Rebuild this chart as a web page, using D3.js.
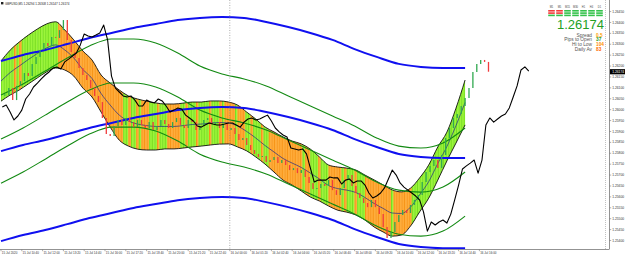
<!DOCTYPE html>
<html>
<head>
<meta charset="utf-8">
<script src="https://cdn.jsdelivr.net/npm/d3@7"></script>
<style>
html,body{margin:0;padding:0;background:#fff;}
svg{display:block;font-family:"Liberation Sans",Arial,sans-serif;}
</style>
</head>
<body>
<script>
// GBPUSD M5 chart: candles, ribbon band, two channels and a shifted line

var timeLabels = ["15 Jul 2020","15 Jul 10:40","15 Jul 12:00","15 Jul 13:20","15 Jul 14:40","15 Jul 16:00",
  "15 Jul 17:20","15 Jul 18:40","15 Jul 20:00","15 Jul 21:20","15 Jul 22:40","16 Jul 00:00",
  "16 Jul 01:20","16 Jul 02:40","16 Jul 04:00","16 Jul 05:20","16 Jul 06:40","16 Jul 08:00",
  "16 Jul 09:20","16 Jul 10:40","16 Jul 12:00","16 Jul 13:20","16 Jul 14:40","16 Jul 16:00"];
var labelStep = 16;      // bars between time labels
var dayBreakLabel = 11;  // 16 Jul 00:00

var priceTicks = [1.2540,1.2545,1.2550,1.2555,1.2560,1.2565,1.2570,1.2575,1.2580,1.2585,1.2590,
  1.2595,1.2600,1.2605,1.2610,1.2615,1.2620,1.2625,1.2630,1.2635,1.2640,1.2645];

// candles every 3 bars from bar 3
var candleStart = 3, candleStep = 3;
var candleClose = [1.26067,1.26099,1.26044,1.26109,1.26131,1.26168,1.26154,1.26209,1.26242,1.26274,
  1.26306,1.26292,1.26333,1.26329,1.26365,1.26411,1.26320,1.26265,1.26237,1.26191,
  1.26159,1.26136,1.26099,1.26063,1.26035,1.25962,1.25888,1.25879,1.25925,1.25953,
  1.25930,1.25962,1.25943,1.25920,1.25953,1.25930,1.25916,1.25943,1.25907,1.25925,
  1.25953,1.25934,1.25916,1.25943,1.25962,1.25930,1.25916,1.25953,1.25943,1.25907,
  1.25925,1.25953,1.25962,1.25934,1.25943,1.25916,1.25934,1.25907,1.25916,1.25888,
  1.25861,1.25870,1.25838,1.25815,1.25797,1.25783,1.25787,1.25760,1.25769,1.25783,
  1.25755,1.25769,1.25746,1.25723,1.25732,1.25709,1.25723,1.25691,1.25664,1.25636,
  1.25641,1.25659,1.25650,1.25677,1.25631,1.25609,1.25641,1.25677,1.25700,1.25650,
  1.25618,1.25595,1.25572,1.25553,1.25586,1.25553,1.25521,1.25462,1.25411,1.25439,
  1.25485,1.25517,1.25540,1.25526,1.25563,1.25586,1.25609,1.25668,1.25714,1.25742,
  1.25769,1.25732,1.25792,1.25870,1.25916,1.25962,1.25980,1.26017,1.26054,1.26099,
  1.26173,1.26209,1.26228,1.26219,1.26174];

// black line every 3 bars from bar 1
var blackStart = 1, blackStep = 3;
var blackLine = [1.26012,1.26021,1.25989,1.25953,1.25971,1.25998,1.26049,1.26072,1.26104,1.26122,
  1.26141,1.26159,1.26173,1.26191,1.26196,1.26187,1.26219,1.26232,1.26246,1.26260,
  1.26297,1.26347,1.26338,1.26333,1.26342,1.26352,1.26388,1.26320,1.26154,1.26099,
  1.26081,1.26063,1.26058,1.26063,1.26044,1.26017,1.26017,1.26044,1.26035,1.26031,
  1.26049,1.26040,1.26017,1.25989,1.25998,1.26008,1.26003,1.25975,1.25962,1.25948,
  1.25925,1.25920,1.25930,1.25939,1.25934,1.25930,1.25930,1.25934,1.25939,1.25939,
  1.25930,1.25920,1.25943,1.25957,1.25962,1.25953,1.25957,1.25966,1.25975,1.25948,
  1.25916,1.25898,1.25884,1.25875,1.25824,1.25820,1.25815,1.25820,1.25797,1.25732,
  1.25668,1.25677,1.25677,1.25677,1.25691,1.25687,1.25687,1.25659,1.25677,1.25682,
  1.25664,1.25673,1.25673,1.25654,1.25618,1.25595,1.25604,1.25618,1.25641,1.25682,
  1.25723,1.25700,1.25664,1.25645,1.25631,1.25618,1.25604,1.25586,1.25531,1.25443,
  1.25485,1.25471,1.25485,1.25494,1.25480,1.25521,1.25586,1.25654,1.25728,1.25742,
  1.25755,1.25769,1.25709,1.25769,1.25930,1.25962,1.25943,1.25957,1.25971,1.25980,
  1.26008,1.26058,1.26109,1.26182,1.26196,1.26177];

// regression channels, one point every 17 bars
var lineStep = 17;
var blueMid = [1.25810,1.25838,1.25861,1.25888,1.25916,1.25939,1.25962,1.25980,1.25998,1.26008,1.26012,
  1.26008,1.25989,1.25966,1.25939,1.25907,1.25865,1.25829,1.25797,1.25783,1.25778,1.25778];
var blueDev = 0.00413;
var greenMid = [1.25865,1.25916,1.25975,1.26035,1.26090,1.26122,1.26122,1.26104,1.26058,1.25998,1.25962,
  1.25939,1.25907,1.25861,1.25815,1.25769,1.25723,1.25668,1.25631,1.25622,1.25645,1.25714];
var greenDev = 0.00202;

// ribbon, one point every 7 bars
var bandStep = 7;
var bandMid = [1.26131,1.26170,1.26200,1.26230,1.26258,1.26283,1.26297,1.26274,1.26237,1.26184,
  1.26143,1.26074,1.26021,1.25975,1.25948,1.25934,1.25927,1.25923,1.25923,1.25923,
  1.25927,1.25932,1.25934,1.25939,1.25941,1.25939,1.25925,1.25900,1.25870,1.25836,
  1.25806,1.25776,1.25755,1.25735,1.25709,1.25682,1.25652,1.25638,1.25631,1.25620,
  1.25597,1.25570,1.25547,1.25526,1.25524,1.25553,1.25609,1.25670,1.25753,1.25831,
  1.25927,1.26033];
var bandHalf = [0.00092,0.00103,0.00110,0.00112,0.00112,0.00110,0.00106,0.00092,0.00083,0.00085,
  0.00085,0.00085,0.00101,0.00115,0.00115,0.00115,0.00112,0.00108,0.00103,0.00103,
  0.00103,0.00103,0.00101,0.00101,0.00099,0.00096,0.00096,0.00089,0.00087,0.00085,
  0.00092,0.00099,0.00101,0.00108,0.00110,0.00101,0.00094,0.00099,0.00101,0.00103,
  0.00103,0.00108,0.00108,0.00106,0.00099,0.00087,0.00078,0.00076,0.00076,0.00066,
  0.00080,0.00103];
// stripe colour every 2 bars: g = up, o = down
var stripeStep = 2;
var stripes = ["ggggg","ogo","gggggggggggg","ggo","ooooooooooooooooooooo","ooo","ggoggog","ooo",
  "gggoggg","ooooo","ggogggoggggogggog","oooogooo","ggogggogg","ooooooooooooogoo","gggoggg",
  "ooooo","gogggogggo","ooooooooogooooooo","ggggggggggggggggggggg"].join("");

var symbolName = "GBPUSD,M5";
var lastOHLC = [1.26294, 1.26308, 1.26147, 1.26174];
var lastPrice = 1.26174;
var panelCols = ["M1","M5","M15","M30","H1","H4","D1"];
var panelSignals = [[0,0,1,1,1,1,1],[0,0,1,1,1,1,1],[1,1,1,1,1,1,1]];
var infoLabels = ["Spread","Pips to Open","Hi to Low","Daily Av"];
var infoValues = ["0.5","37","104","83"];
var infoColors = ["#ffa000","#2a9a2a","#ff8c00","#ff6a00"];

var width = 625, height = 258;
var plotR = 609, plotB = 249;

var x = d3.scaleLinear().domain([0, 467.7]).range([1, plotR]);
var y = d3.scaleLinear().domain([1.25361, 1.26503]).range([plotB, 0]);
var fmt = d3.format(".5f");

var svg = d3.select("body").append("svg").attr("width", width).attr("height", height);
var defs = svg.append("defs");
defs.append("clipPath").attr("id", "plotclip").append("rect")
    .attr("x", 0).attr("y", 0).attr("width", plotR).attr("height", plotB);

var bandArea = d3.area()
    .x(function(d, i) { return x(i * bandStep); })
    .y0(function(d, i) { return y(d - bandHalf[i]); })
    .y1(function(d, i) { return y(d + bandHalf[i]); })
    .curve(d3.curveMonotoneX);
defs.append("clipPath").attr("id", "bandclip").append("path").attr("d", bandArea(bandMid));

var plot = svg.append("g").attr("clip-path", "url(#plotclip)");

// ribbon stripes
var stripeG = plot.append("g").attr("clip-path", "url(#bandclip)");
var sw = x(stripeStep) - x(0);
stripeG.selectAll("rect").data(stripes.split("")).enter().append("rect")
    .attr("x", function(d, i) { return x(i * stripeStep); })
    .attr("y", 0).attr("width", sw + 0.2).attr("height", plotB)
    .attr("fill", function(d) { return d == "g" ? "#9cf53a" : "#ffad3b"; });
stripeG.selectAll("line").data(stripes.split("")).enter().append("line")
    .attr("x1", function(d, i) { return x(i * stripeStep) + 0.5; })
    .attr("x2", function(d, i) { return x(i * stripeStep) + 0.5; })
    .attr("y1", 0).attr("y2", plotB)
    .attr("stroke", function(d) { return d == "g" ? "#6fd81c" : "#f58f12"; })
    .attr("stroke-width", 0.8);

function bandEdge(sign) {
  return d3.line()
    .x(function(d, i) { return x(i * bandStep); })
    .y(function(d, i) { return y(d + sign * bandHalf[i]); })
    .curve(d3.curveMonotoneX);
}
plot.append("path").attr("d", bandEdge(1)(bandMid)).attr("fill", "none").attr("stroke", "#111").attr("stroke-width", 0.9);
plot.append("path").attr("d", bandEdge(-1)(bandMid)).attr("fill", "none").attr("stroke", "#111").attr("stroke-width", 0.9);
plot.append("path").attr("d", bandEdge(0)(bandMid)).attr("fill", "none").attr("stroke", "#1c2a8a").attr("stroke-width", 0.7);

// channels
function chanLine(off) {
  return d3.line()
    .x(function(d, i) { return x(i * lineStep); })
    .y(function(d) { return y(d + off); })
    .curve(d3.curveMonotoneX);
}
[greenDev, 0, -greenDev].forEach(function(o) {
  plot.append("path").attr("d", chanLine(o)(greenMid)).attr("fill", "none")
      .attr("stroke", "#138a13").attr("stroke-width", 1.1);
});
[blueDev, 0, -blueDev].forEach(function(o) {
  plot.append("path").attr("d", chanLine(o)(blueMid)).attr("fill", "none")
      .attr("stroke", "#1010f0").attr("stroke-width", 2);
});

// candles (open = previous close)
plot.selectAll("line.candle").data(candleClose).enter().append("line")
    .attr("class", "candle")
    .attr("x1", function(d, i) { return x(candleStart + i * candleStep); })
    .attr("x2", function(d, i) { return x(candleStart + i * candleStep); })
    .attr("y1", function(d, i) { var o = i ? candleClose[i - 1] : d; return y(o) + (o == d ? -0.7 : 0); })
    .attr("y2", function(d, i) { var o = i ? candleClose[i - 1] : d; return y(d) + (o == d ? 0.7 : 0); })
    .attr("stroke", function(d, i) { return (i && d < candleClose[i - 1]) ? "#f03c3c" : "#2fa84f"; })
    .attr("stroke-width", 1.3);

// black line
var blk = d3.line()
    .x(function(d, i) { return x(blackStart + i * blackStep); })
    .y(function(d) { return y(d); });
plot.append("path").attr("d", blk(blackLine)).attr("fill", "none")
    .attr("stroke", "#000").attr("stroke-width", 1.1).attr("stroke-linejoin", "round");

// day separator and right dotted line
plot.append("line").attr("x1", x(dayBreakLabel * labelStep)).attr("x2", x(dayBreakLabel * labelStep))
    .attr("y1", 0).attr("y2", plotB).attr("stroke", "#888").attr("stroke-width", 0.7)
    .attr("stroke-dasharray", "1,1.5");
svg.append("line").attr("x1", plotR - 3.5).attr("x2", plotR - 3.5).attr("y1", 0).attr("y2", plotB)
    .attr("stroke", "#999").attr("stroke-width", 0.6).attr("stroke-dasharray", "1,1");

// frame
svg.append("line").attr("x1", 0).attr("x2", plotR).attr("y1", plotB + 0.5).attr("y2", plotB + 0.5)
    .attr("stroke", "#777").attr("stroke-width", 0.8);
svg.append("line").attr("x1", plotR + 0.5).attr("x2", plotR + 0.5).attr("y1", 0).attr("y2", plotB + 0.5)
    .attr("stroke", "#777").attr("stroke-width", 0.8);

// price axis
var pa = svg.append("g");
pa.selectAll("line").data(priceTicks).enter().append("line")
    .attr("x1", plotR + 0.5).attr("x2", plotR + 2.2)
    .attr("y1", function(d) { return y(d); }).attr("y2", function(d) { return y(d); })
    .attr("stroke", "#777").attr("stroke-width", 0.6);
pa.selectAll("text").data(priceTicks).enter().append("text")
    .attr("x", plotR + 3.2).attr("y", function(d) { return y(d) + 1.1; })
    .attr("font-size", 3.3).attr("fill", "#333")
    .text(function(d) { return fmt(d); });

// current price box
svg.append("rect").attr("x", plotR + 1).attr("y", y(lastPrice) - 2.6).attr("width", width - plotR - 1)
    .attr("height", 5.2).attr("fill", "#000");
svg.append("text").attr("x", plotR + 3.2).attr("y", y(lastPrice) + 1.1).attr("font-size", 3.3)
    .attr("fill", "#fff").text(fmt(lastPrice));

// time axis
var ta = svg.append("g");
ta.selectAll("line").data(timeLabels).enter().append("line")
    .attr("x1", function(d, i) { return x(i * labelStep); }).attr("x2", function(d, i) { return x(i * labelStep); })
    .attr("y1", plotB + 0.5).attr("y2", plotB + 2.2).attr("stroke", "#777").attr("stroke-width", 0.6);
ta.selectAll("text").data(timeLabels).enter().append("text")
    .attr("x", function(d, i) { return x(i * labelStep) + 0.8; }).attr("y", plotB + 5.2)
    .attr("font-size", 3).attr("fill", "#333")
    .text(function(d) { return d; });

// title
svg.append("rect").attr("x", 1).attr("y", 2).attr("width", 2.4).attr("height", 2.4).attr("fill", "#222");
svg.append("text").attr("x", 5).attr("y", 4.6).attr("font-size", 3).attr("fill", "#222")
    .text(symbolName + "  " + lastOHLC.map(fmt).join(" "));

// signal panel
var colX = d3.scalePoint().domain(panelCols).range([551.5, 599.5]);
svg.selectAll("text.col").data(panelCols).enter().append("text").attr("class", "col")
    .attr("x", function(d) { return colX(d); }).attr("y", 8.4).attr("font-size", 2.6)
    .attr("text-anchor", "middle").attr("fill", "#444").text(function(d) { return d; });
panelSignals.forEach(function(row, r) {
  svg.selectAll("rect.sig" + r).data(row).enter().append("rect").attr("class", "sig" + r)
      .attr("x", function(d, i) { return colX(panelCols[i]) - 3.3; })
      .attr("y", 10 + r * 2.3).attr("width", 6.6).attr("height", 1.6)
      .attr("fill", function(d) { return d ? "#33c24a" : "#f23a3a"; });
});
svg.append("text").attr("x", 604).attr("y", 29.2).attr("font-size", 13).attr("text-anchor", "end")
    .attr("fill", "#24a024").text(fmt(lastPrice));
infoLabels.forEach(function(l, i) {
  svg.append("text").attr("x", 592).attr("y", 36.6 + i * 4.8).attr("font-size", 4.8)
      .attr("text-anchor", "end").attr("fill", "#555").text(l);
  svg.append("text").attr("x", 596).attr("y", 36.6 + i * 4.8).attr("font-size", 4.8)
      .attr("fill", infoColors[i]).attr("font-weight", "bold").text(infoValues[i]);
});
</script>
</body>
</html>
